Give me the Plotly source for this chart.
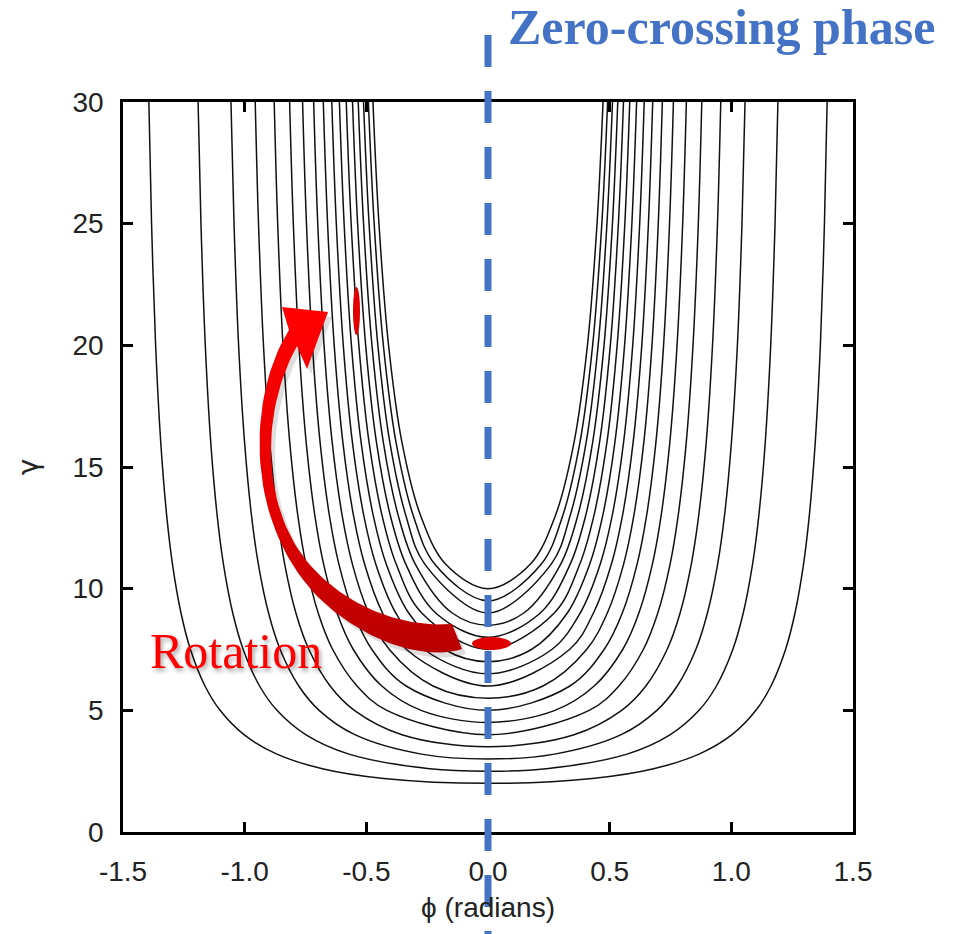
import numpy as np
import plotly.graph_objects as go

# ---------------- data ----------------
# gamma levels at which the half-width (phi) of each contour was read
gamma_levels = [2.2, 2.6, 3.2, 4, 5, 6, 7.5, 9, 11, 13, 16, 20, 25, 30]
# minimum gamma (value at phi = 0) of each contour
gamma_min = [10, 9.5, 9, 8.5, 8, 7.5, 7, 6.5, 6, 5.5, 5, 4.5, 4, 3.5, 3, 2.5, 2]

# half-widths phi (radians) of each contour at the gamma levels above its minimum
phi_g10_0 = [0.1735, 0.2768, 0.3534, 0.4086, 0.4481, 0.4728]
phi_g9_5 = [0.2182, 0.3070, 0.3777, 0.4300, 0.4678, 0.4915]
phi_g9_0 = [0.2591, 0.3375, 0.4031, 0.4526, 0.4888, 0.5116]
phi_g8_5 = [0.1472, 0.2984, 0.3688, 0.4299, 0.4768, 0.5114, 0.5333]
phi_g8_0 = [0.2149, 0.3374, 0.4013, 0.4582, 0.5027, 0.5358, 0.5568]
phi_g7_5 = [0.2723, 0.3770, 0.4353, 0.4886, 0.5307, 0.5623, 0.5825]
phi_g7_0 = [0.1782, 0.3261, 0.4179, 0.4715, 0.5213, 0.5612, 0.5913, 0.6107]
phi_g6_5 = [0.2621, 0.3791, 0.4610, 0.5104, 0.5570, 0.5947, 0.6234, 0.6419]
phi_g6_0 = [0.3350, 0.4333, 0.5070, 0.5526, 0.5963, 0.6320, 0.6592, 0.6769]
phi_g5_5 = [0.2260, 0.4053, 0.4904, 0.5571, 0.5993, 0.6402, 0.6738, 0.6997, 0.7165]
phi_g5_0 = [0.3365, 0.4771, 0.5520, 0.6126, 0.6517, 0.6899, 0.7215, 0.7460, 0.7620]
phi_g4_5 = [0.2754, 0.4365, 0.5536, 0.6201, 0.6754, 0.7115, 0.7471, 0.7769, 0.8000, 0.8152]
phi_g4_0 = [0.4159, 0.5381, 0.6383, 0.6978, 0.7482, 0.7815, 0.8147, 0.8425, 0.8643, 0.8786]
phi_g3_5 = [0.3537, 0.5494, 0.6488, 0.7360, 0.7895, 0.8353, 0.8659, 0.8967, 0.9227, 0.9431, 0.9566]
phi_g3_0 = [0.2732, 0.5473, 0.6940, 0.7776, 0.8541, 0.9018, 0.9437, 0.9719, 1.0003, 1.0249, 1.0437, 1.0563]
phi_g2_5 = [0.2396, 0.5714, 0.7493, 0.8673, 0.9387, 1.0060, 1.0490, 1.0871, 1.1130, 1.1393, 1.1618, 1.1796, 1.1914]
phi_g2_0 = [0.4282, 0.6806, 0.8672, 1.0028, 1.1011, 1.1630, 1.2228, 1.2617, 1.2966, 1.3204, 1.3448, 1.3659, 1.3826, 1.3937]

phi_half_widths = [phi_g10_0, phi_g9_5, phi_g9_0, phi_g8_5, phi_g8_0, phi_g7_5, phi_g7_0,
                   phi_g6_5, phi_g6_0, phi_g5_5, phi_g5_0, phi_g4_5, phi_g4_0, phi_g3_5,
                   phi_g3_0, phi_g2_5, phi_g2_0]

x_tick_vals = [-1.5, -1.0, -0.5, 0.0, 0.5, 1.0, 1.5]
x_tick_text = ["-1.5", "-1.0", "-0.5", "0.0", "0.5", "1.0", "1.5"]
y_tick_vals = [0, 5, 10, 15, 20, 25, 30]
y_tick_text = ["0", "5", "10", "15", "20", "25", "30"]

# ---------------- figure ----------------
W, H = 972, 934
ML, MR, MT, MB = 123, 119, 102, 102
PW, PH = W - ML - MR, H - MT - MB
X0, X1, Y0, Y1 = -1.5, 1.5, 0.0, 30.0


def px2data(px, py):
    return (X0 + (px - ML) / PW * (X1 - X0), Y0 + (H - MB - py) / PH * (Y1 - Y0))


def px2paper(px, py):
    return ((px - ML) / PW, (H - MB - py) / PH)


fig = go.Figure()

for g0, phis in zip(gamma_min, phi_half_widths):
    levels = gamma_levels[-len(phis):]
    xs = [-p for p in reversed(phis)] + [0.0] + list(phis)
    ys = list(reversed(levels)) + [g0] + list(levels)
    fig.add_trace(go.Scatter(x=xs, y=ys, mode="lines",
                             line=dict(color="#111111", width=1.5, shape="spline", smoothing=1.0),
                             hoverinfo="skip", showlegend=False))


# ---------------- curved "Rotation" arrow (decoration) ----------------
def bez(p0, p1, p2, p3, n=40):
    t = np.linspace(0, 1, n)[:, None]
    p0, p1, p2, p3 = (np.array(p, float) for p in (p0, p1, p2, p3))
    return ((1 - t) ** 3) * p0 + 3 * ((1 - t) ** 2) * t * p1 + 3 * (1 - t) * t ** 2 * p2 + t ** 3 * p3


outer = np.vstack([bez((289, 330), (248, 395), (243, 520), (318, 597)),
                   bez((318, 597), (360, 638), (420, 662), (462, 649))])
inner = np.vstack([bez((452, 624), (400, 628), (345, 605), (310, 565)),
                   bez((310, 565), (262, 510), (259, 415), (297, 346))])
head = np.array([(307, 369), (328, 312), (282, 307), (289, 330)], float)
poly = np.vstack([outer, inner, head])


def poly_data(pts, dx=0.0, dy=0.0):
    d = [px2data(a + dx, b + dy) for a, b in pts]
    return [p[0] for p in d], [p[1] for p in d]


sx, sy = poly_data(poly, 4, 5)
fig.add_trace(go.Scatter(x=sx, y=sy, mode="lines", fill="toself", line=dict(width=0),
                         fillcolor="rgba(0,0,0,0.13)", hoverinfo="skip", showlegend=False))
ax_, ay_ = poly_data(poly)
fig.add_trace(go.Scatter(x=ax_, y=ay_, mode="lines", fill="toself", line=dict(width=0),
                         fillgradient=dict(type="vertical",
                                           colorscale=[[0, "#B80000"], [0.45, "#E60000"], [1, "#FF0000"]]),
                         hoverinfo="skip", showlegend=False))

shapes = []
# zero-crossing dashed line
ytop = px2paper(0, 35)[1]
ybot = px2paper(0, 934)[1]
shapes.append(dict(type="line", xref="x", yref="paper", x0=0, x1=0, y0=ytop, y1=ybot,
                   line=dict(color="#4472C4", width=7, dash="32px,24px"), layer="above"))
# electron bunches
bx0, by0 = px2data(472, 650)
bx1, by1 = px2data(511, 637)
shapes.append(dict(type="circle", xref="x", yref="y", x0=bx0, x1=bx1, y0=by0, y1=by1,
                   fillcolor="#E00000", line=dict(width=0), layer="above"))
tx0, ty0 = px2data(353, 335)
tx1, ty1 = px2data(360, 287)
shapes.append(dict(type="circle", xref="x", yref="y", x0=tx0, x1=tx1, y0=ty0, y1=ty1,
                   fillcolor="#E00000", line=dict(width=0), layer="above"))

annotations = []
zx, zy = px2paper(506, 27)
annotations.append(dict(text="<b>Zero-crossing phase</b>", xref="paper", yref="paper", x=zx, y=zy,
                        xanchor="left", yanchor="middle", showarrow=False,
                        font=dict(family="Liberation Serif", size=50, color="#4472C4")))
rx, ry = px2paper(148, 651)
annotations.append(dict(text="Rotation", xref="paper", yref="paper", x=rx, y=ry,
                        xanchor="left", yanchor="middle", showarrow=False,
                        font=dict(family="Liberation Serif", size=50, color="#FF0000",
                                  shadow="2px 3px 4px rgba(0,0,0,0.35)")))

tickfont = dict(family="Liberation Sans", size=28, color="#222222")
fig.update_layout(
    width=W, height=H,
    margin=dict(l=ML, r=MR, t=MT, b=MB, autoexpand=False),
    paper_bgcolor="white", plot_bgcolor="white",
    shapes=shapes, annotations=annotations,
    xaxis=dict(range=[X0, X1], tickvals=x_tick_vals, ticktext=x_tick_text,
               ticks="inside", ticklen=10, tickwidth=2.5, tickcolor="black",
               showline=True, linewidth=2.5, linecolor="black", mirror="ticks",
               showgrid=False, zeroline=False, tickfont=tickfont, ticklabelstandoff=13,
               title=dict(text="\u03d5 (radians)", font=tickfont, standoff=12)),
    yaxis=dict(range=[Y0, Y1], tickvals=y_tick_vals, ticktext=y_tick_text,
               ticks="inside", ticklen=10, tickwidth=2.5, tickcolor="black",
               showline=True, linewidth=2.5, linecolor="black", mirror="ticks",
               showgrid=False, zeroline=False, tickfont=tickfont, ticklabelstandoff=11,
               title=dict(text="\u03b3", font=dict(family="DejaVu Sans", size=28, color="#222222"),
                          standoff=26)),
)

fig.write_html("out.html")
